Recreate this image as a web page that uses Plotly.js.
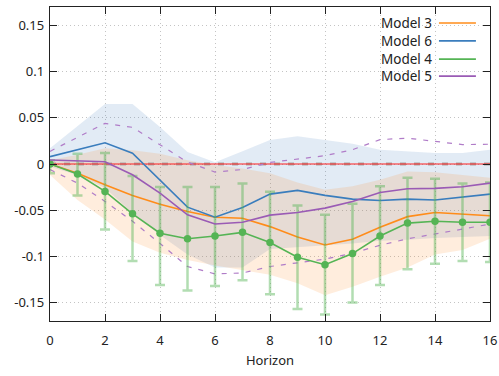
<!DOCTYPE html>
<html><head><meta charset="utf-8">
<script src="https://cdn.plot.ly/plotly-3.0.1.min.js"></script>
<style>html,body{margin:0;padding:0;background:#fff}#chart{width:499px;height:376px}</style>
</head><body><div id="chart"></div>
<script>
const horizon = [0,1,2,3,4,5,6,7,8,9,10,11,12,13,14,15,16];
const model3 = [0,-0.010,-0.0225,-0.034,-0.0435,-0.0515,-0.0576,-0.0587,-0.0678,-0.079,-0.0877,-0.0815,-0.0685,-0.057,-0.0525,-0.054,-0.056];
const model3Upper = [0.004,0.010,0.017,0.015,0.011,0.004,-0.001,-0.005,-0.010,-0.020,-0.028,-0.024,-0.017,-0.008,-0.009,-0.012,-0.015];
const model3Lower = [-0.012,-0.039,-0.060,-0.084,-0.096,-0.104,-0.110,-0.115,-0.120,-0.129,-0.142,-0.133,-0.122,-0.112,-0.098,-0.093,-0.081];
const model6 = [0.008,0.0155,0.023,0.0116,-0.0174,-0.0467,-0.0576,-0.047,-0.0326,-0.0286,-0.034,-0.038,-0.0395,-0.038,-0.039,-0.036,-0.0326];
const model6Upper = [0.017,0.041,0.065,0.065,0.040,0.013,0.002,0.0137,0.026,0.030,0.026,0.022,0.0155,0.0137,0.012,0.012,0.0155];
const model6Lower = [-0.003,-0.012,-0.026,-0.053,-0.077,-0.098,-0.112,-0.112,-0.092,-0.090,-0.088,-0.086,-0.083,-0.082,-0.080,-0.079,-0.078];
const model4 = [0,-0.0109,-0.0297,-0.054,-0.075,-0.081,-0.078,-0.074,-0.085,-0.101,-0.109,-0.097,-0.078,-0.064,-0.062,-0.063,-0.063];
const model4Upper = [0.004,0.011,0.012,-0.013,-0.025,-0.025,-0.025,-0.021,-0.030,-0.045,-0.055,-0.043,-0.024,-0.015,-0.016,-0.021,-0.020];
const model4Lower = [-0.010,-0.034,-0.071,-0.105,-0.131,-0.137,-0.132,-0.126,-0.141,-0.157,-0.163,-0.150,-0.131,-0.114,-0.108,-0.105,-0.106];
const model5 = [0.0043,0.0038,0.0025,-0.0116,-0.0315,-0.055,-0.065,-0.063,-0.0554,-0.0525,-0.0478,-0.0406,-0.0308,-0.0268,-0.0264,-0.0246,-0.0207];
const model5Upper = [0.0137,0.029,0.044,0.0397,0.021,0.002,-0.0087,-0.006,0.0017,0.0057,0.009,0.0155,0.0264,0.028,0.0245,0.021,0.0214];
const model5Lower = [-0.006,-0.0207,-0.0405,-0.062,-0.086,-0.111,-0.119,-0.118,-0.111,-0.107,-0.103,-0.0966,-0.088,-0.081,-0.076,-0.0705,-0.065];
const legendNames = ["Model 3","Model 6","Model 4","Model 5"];
const zeroLine = [0,0];
const zeroX = [0,16];

const cOrange = '#ff8c1a', cBlue = '#3a7dbd', cGreen = '#55b455', cPurple = '#9a5bb5';
const legendColors = [cOrange,cBlue,cGreen,cPurple];
const errPlus = model4Upper.map((u,i)=>u-model4[i]);
const errMinus = model4.map((v,i)=>v-model4Lower[i]);

const traces = [
  {x:horizon,y:model6Lower,mode:'lines',line:{width:0},hoverinfo:'skip',showlegend:false},
  {x:horizon,y:model6Upper,mode:'lines',line:{width:0},fill:'tonexty',fillcolor:'rgba(60,120,190,0.15)',showlegend:false},
  {x:horizon,y:model3Lower,mode:'lines',line:{width:0},showlegend:false},
  {x:horizon,y:model3Upper,mode:'lines',line:{width:0},fill:'tonexty',fillcolor:'rgba(255,127,14,0.14)',showlegend:false},
  {x:zeroX,y:zeroLine,mode:'lines',line:{color:'#a8a8a8',width:3,dash:'6px,8px'},showlegend:false},
  {x:zeroX,y:zeroLine,mode:'lines',line:{color:'#ff2020',width:1.2},showlegend:false},
  {x:horizon,y:model5Upper,mode:'lines',line:{color:'#b07cc8',width:1.2,dash:'5px,7px'},showlegend:false},
  {x:horizon,y:model5Lower,mode:'lines',line:{color:'#b07cc8',width:1.2,dash:'5px,7px'},showlegend:false},
  {x:horizon,y:model3,mode:'lines',name:'Model 3',line:{color:cOrange,width:1.6},showlegend:false},
  {x:horizon,y:model6,mode:'lines',name:'Model 6',line:{color:cBlue,width:1.6},showlegend:false},
  {x:horizon,y:model4,mode:'lines+markers',name:'Model 4',line:{color:cGreen,width:1.6},
   marker:{color:cGreen,size:7.5},
   error_y:{type:'data',symmetric:false,array:errPlus,arrayminus:errMinus,color:'rgba(85,180,85,0.45)',thickness:2.5,width:5},
   showlegend:false},
  {x:horizon,y:model5,mode:'lines',name:'Model 5',line:{color:cPurple,width:1.6},showlegend:false}
];

const annotations = [], shapes = [];
const legY = [0.949,0.892,0.834,0.780];
legendNames.forEach((n,i)=>{
  annotations.push({xref:'paper',yref:'paper',x:0.872,y:legY[i],xanchor:'right',yanchor:'middle',text:n,showarrow:false,font:{size:13.5,color:'#222'}});
  shapes.push({type:'line',xref:'paper',yref:'paper',x0:0.884,x1:0.968,y0:legY[i],y1:legY[i],line:{color:legendColors[i],width:1.6}});
});

const axisCommon = {showline:true,linecolor:'#222',linewidth:1.2,mirror:'allticks',ticks:'inside',ticklen:7,tickcolor:'#222',
  showgrid:true,gridcolor:'#c4c4c4',griddash:'1px,3px',gridwidth:1,zeroline:false,tickfont:{size:13,color:'#222'}};

const layout = {
  width:499,height:376,margin:{l:50,r:9,t:7,b:55},
  paper_bgcolor:'#fff',plot_bgcolor:'#fff',
  font:{family:'"Noto Sans", "DejaVu Sans", sans-serif',color:'#222'},
  xaxis:Object.assign({},axisCommon,{range:[0,16],tickvals:[0,2,4,6,8,10,12,14,16],ticklabelstandoff:7,title:{text:'Horizon',font:{size:13},standoff:8}}),
  yaxis:Object.assign({},axisCommon,{range:[-0.17,0.17],ticklabelstandoff:2,tickvals:[-0.15,-0.1,-0.05,0,0.05,0.1,0.15],ticktext:['-0.15','-0.1','-0.05','0','0.05','0.1','0.15']}),
  showlegend:false,annotations:annotations,shapes:shapes
};
Plotly.newPlot('chart',traces,layout,{staticPlot:true,displayModeBar:false});
</script></body></html>
